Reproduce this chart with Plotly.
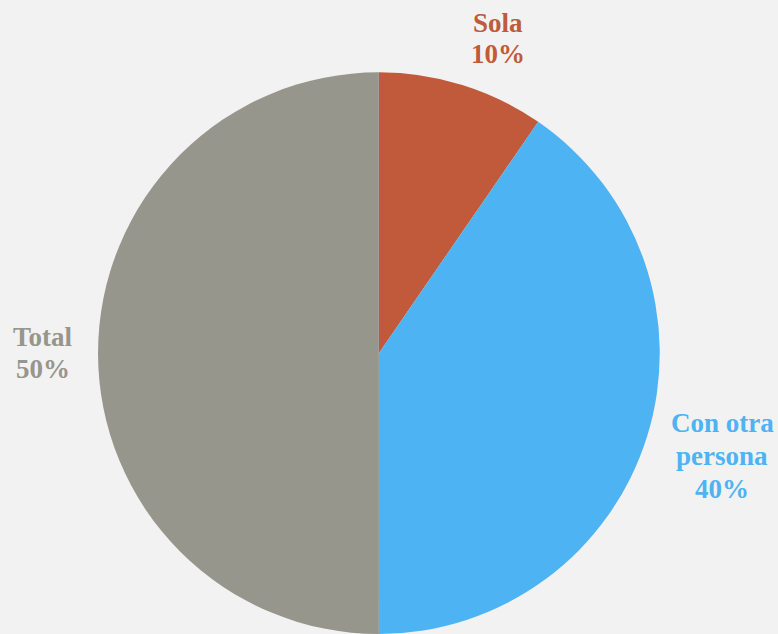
import plotly.graph_objects as go

labels = ["Sola", "Con otra persona", "Total"]
values = [9.6, 40.4, 50.0]
colors = ["#C05A3B", "#4EB3F2", "#96968C"]
label_names = [["Sola"], ["Con otra", "persona"], ["Total"]]

W, H = 778, 634

fig = go.Figure(go.Pie(
    labels=labels,
    values=values,
    marker=dict(colors=colors, line=dict(width=0)),
    sort=False,
    direction="clockwise",
    rotation=0,
    textinfo="none",
    hoverinfo="label+percent",
    domain=dict(x=[0.126, 0.848], y=[0.0, 0.886]),
    showlegend=False,
))

total = sum(values)
# label block centres (pixels) and line spacing
anchors = [(498, 22.5, 31), (722, 423, 33), (43, 337, 32.5)]
for (cx, cy, dy), names, v, c in zip(anchors, label_names, values, colors):
    lines = names + ["%d%%" % round(100 * v / total)]
    for i, t in enumerate(lines):
        fig.add_annotation(
            x=cx / W, y=(H - (cy + i * dy)) / H, xref="paper", yref="paper",
            text="<b>" + t + "</b>", showarrow=False,
            xanchor="center", yanchor="middle", align="center",
            font=dict(family="Liberation Serif", size=27, color=c),
        )

fig.update_layout(
    width=W, height=H,
    margin=dict(l=0, r=0, t=0, b=0),
    paper_bgcolor="#F2F2F2",
    plot_bgcolor="#F2F2F2",
)

fig.write_html("out.html", config={"displayModeBar": False},
               post_script="document.body.style.margin='0';document.body.style.background='#F2F2F2';")
